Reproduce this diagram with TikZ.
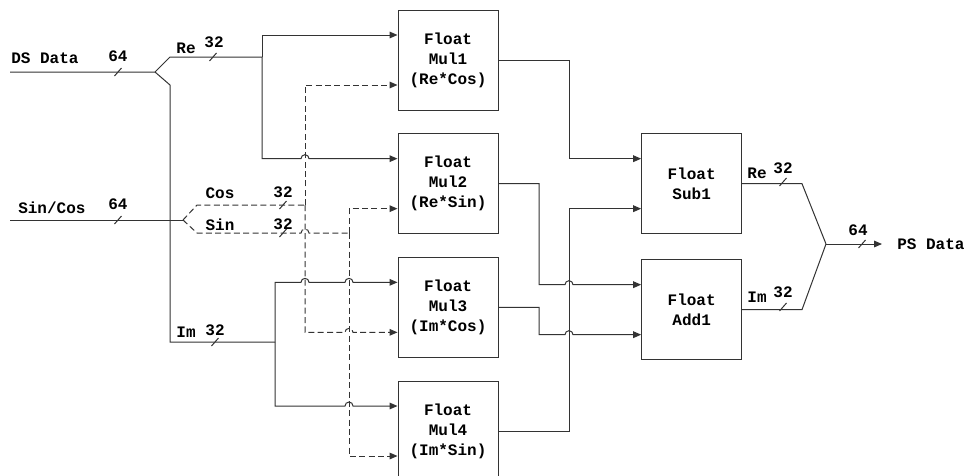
\documentclass[tikz,border=0pt]{standalone}
\usepackage{fontspec}
\newfontfamily\cour{Liberation Mono}
\usetikzlibrary{positioning, arrows.meta, calc}
% small hop where a wire jumps over a vertical one
\newcommand{\hopat}[1]{-- ($(#1)+(-4,0)$) arc[start angle=180, end angle=360, radius=4]}

\begin{document}
\begin{tikzpicture}[
  x=0.75pt, y=-0.75pt,
  >={Triangle[length=6pt, width=5pt]},
  node distance=17pt,
  % --- Styles ---
  opbox/.style={
    rectangle, draw=black!80, line width=0.75pt,
    minimum width=75pt, minimum height=75pt,
    align=center, inner sep=0pt,
    font=\cour\bfseries\fontsize{12}{15}\selectfont},
  wire/.style={line width=0.75pt, draw=black!80},
  dwire/.style={wire, dash pattern=on 4.5pt off 2.5pt},
  blbl/.style={font=\cour\bfseries\fontsize{12}{14}\selectfont, inner sep=0pt},
  bslash/.pic={\draw[wire, solid] (-3.5,4) -- (3.5,-4);},
]
\useasboundingbox (0,0) rectangle (967,475);

% === NODES ===
% multipliers
\node[opbox] (M1) at (448,60) {Float\\Mul1\\(Re*Cos)};
\node[opbox, below=of M1] (M2) {Float\\Mul2\\(Re*Sin)};
\node[opbox, below=of M2] (M3) {Float\\Mul3\\(Im*Cos)};
\node[opbox, below=of M3] (M4) {Float\\Mul4\\(Im*Sin)};
% sub / add
\node[opbox, right=107pt of M2] (S1) {Float\\Sub1};
\node[opbox, below=18.75pt of S1] (A1) {Float\\Add1};

% input ports on the west side
\foreach \n in {M1,M2,M3,M4,S1,A1} {
  \coordinate (\n a) at ($(\n.west)+(0,-25)$);
  \coordinate (\n b) at ($(\n.west)+(0,25)$);
}

% junctions
\coordinate (dsIn) at (10,72);
\coordinate (dsSplit) at (155,72);
\coordinate (reKnee) at (170,57);
\coordinate (reJ) at (262,57);
\coordinate (imKnee) at (170,85);
\coordinate (imCorner) at (170,342);
\coordinate (imJ) at (275,342);
\coordinate (scIn) at (10,220);
\coordinate (scSplit) at (183,220);
\coordinate (cosKnee) at (197,205);
\coordinate (sinKnee) at (197,233);
\coordinate (cosJ) at (305,205);
\coordinate (sinJ) at (349,233);
\coordinate (addX) at (539,0);
\coordinate (subX) at (569,0);
\coordinate (mergeX) at (802,0);
\coordinate (mergePt) at (826,244);
\coordinate (psOut) at (882,244);

% === ARROWS ===
% DS Data -> Re / Im
\draw[wire] (dsIn) -- (dsSplit) -- (reKnee) -- (reJ);
\draw[wire] (dsSplit) -- (imKnee) -- (imCorner) -- (imJ);
\draw[wire, ->] (reJ) |- (M1a);
\draw[wire, ->] (reJ) -- (reJ |- M2a) \hopat{cosJ |- M2a} -- (M2a);
\draw[wire, ->] (imJ) -- (imJ |- M3a) \hopat{cosJ |- M3a} \hopat{sinJ |- M3a} -- (M3a);
\draw[wire, ->] (imJ) -- (imJ |- M4a) \hopat{sinJ |- M4a} -- (M4a);

% Sin/Cos -> Cos / Sin
\draw[wire] (scIn) -- (scSplit);
\draw[dwire] (scSplit) -- (cosKnee) -- (cosJ);
\draw[dwire] (scSplit) -- (sinKnee) \hopat{cosJ |- sinKnee} -- (sinJ);
\draw[dwire, ->] (cosJ) |- (M1b);
\draw[dwire, ->] (cosJ) -- (cosJ |- M3b) \hopat{sinJ |- M3b} -- (M3b);
\draw[dwire, ->] (sinJ) |- (M2b);
\draw[dwire, ->] (sinJ) |- (M4b);

% products -> sub / add
\draw[wire, ->] (M1.east) -- (M1.east -| subX) -- (subX |- S1a) -- (S1a);
\draw[wire, ->] (M4.east) -- (M4.east -| subX) -- (subX |- S1b) -- (S1b);
\draw[wire, ->] (M2.east) -- (M2.east -| addX) -- (addX |- A1a) \hopat{subX |- A1a} -- (A1a);
\draw[wire, ->] (M3.east) -- (M3.east -| addX) -- (addX |- A1b) \hopat{subX |- A1b} -- (A1b);

% merge -> PS Data
\draw[wire] (S1.east) -- (S1.east -| mergeX) -- (mergePt);
\draw[wire] (A1.east) -- (A1.east -| mergeX) -- (mergePt);
\draw[wire, ->] (mergePt) -- (psOut);

% bus width marks
\foreach \p in {(118,72),(213,57),(118,220),(283,205),(283,233),(215,342),(783,182),(783,307),(862,244)}
  \pic at \p {bslash};

% === LABELS ===
\node[blbl, anchor=west] (dsTxt) at (11,58) {DS Data};
\node[blbl] (dsW) at (118,56) {64};
\node[blbl] (reTxt) at (186,48) {Re};
\node[blbl] (reW) at (214,42) {32};
\node[blbl, anchor=west] (scTxt) at (18,208) {Sin/Cos};
\node[blbl] (scW) at (118,204) {64};
\node[blbl] (cosTxt) at (220,193) {Cos};
\node[blbl] (cosW) at (283,192) {32};
\node[blbl] (sinTxt) at (220,225) {Sin};
\node[blbl] (sinW) at (283,224) {32};
\node[blbl] (imTxt) at (186,332) {Im};
\node[blbl] (imW) at (215,330) {32};
\node[blbl] (subRe) at (757,173) {Re};
\node[blbl] (subW) at (783,168) {32};
\node[blbl] (addIm) at (757,297) {Im};
\node[blbl] (addW) at (783,292) {32};
\node[blbl] (psW) at (858,230) {64};
\node[blbl, anchor=west] (psTxt) at (897,244) {PS Data};
\end{tikzpicture}
\end{document}
